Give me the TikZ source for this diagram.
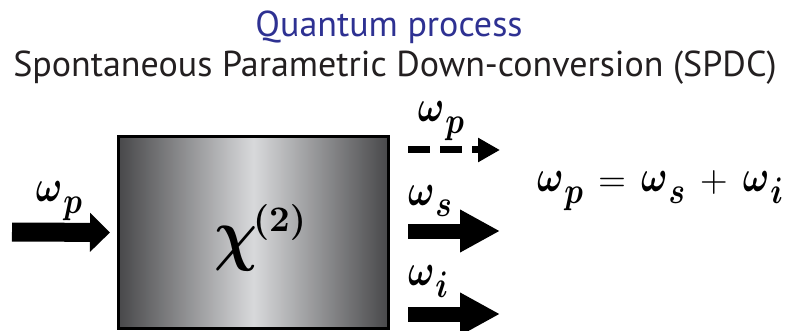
\documentclass[tikz,border=0pt]{standalone}
\usepackage{fontspec}
\usepackage{bm}
\setmainfont{PT Sans}
\usetikzlibrary{arrows.meta,positioning}
\definecolor{titleblue}{RGB}{46,49,146}
\definecolor{textgray}{RGB}{35,31,32}
\definecolor{edgegray}{RGB}{72,72,74}
\definecolor{midgray}{RGB}{216,217,219}
% frequency with its index, set below the line
\newcommand{\freq}[1]{\scalebox{3.5}[4.5]{$\bm{\omega}$}\kern1pt\raisebox{-12pt}{\scalebox{3.1}[3.7]{$\bm{#1}$}}}

\begin{document}
\begin{tikzpicture}[x=1pt,y=-1pt,
	title/.style={ font=\fontsize{36}{36}\selectfont, inner sep=0pt, anchor=base },
	sym/.style={ inner sep=0pt },
	crystal/.style={ draw, line width=3pt, minimum width=270pt, minimum height=192pt,
		left color=edgegray, right color=edgegray, middle color=midgray },
	pump/.style={ line width=19pt, -{Triangle[length=20pt,width=38pt]} },
	beam/.style={ line width=15pt, -{Triangle[length=40pt,width=40pt]} },
	residual/.style={ line width=7pt, dash pattern=on 22pt off 10pt, -{Triangle[length=22pt,width=23pt]} }
]
\useasboundingbox (0,0) rectangle (792,331);

\node[title,text=titleblue] (quantum) at (389,37) {Quantum process};
\node[title,text=textgray] (spdc) at (395,77) {Spontaneous Parametric Down-conversion (SPDC)};

\node[crystal] (crystal) at (253.5,232.5) {};
\node[sym] (chi) at (260,238) {\scalebox{6}[7]{$\bm{\chi}$}\kern-4pt\raisebox{26pt}{\scalebox{3.6}{$\bm{(2)}$}}};

% pump in
\coordinate (pin) at (12,232);
\draw[pump] (pin) -- (crystal.west) [shorten >=7pt];
\node[sym] (wpin) at (59,201) {\freq{p}};

% light out
\coordinate (p0) at (408,150);
\coordinate (p1) at (500,150);
\draw[residual] (p0) -- (p1);
\node[sym] (wpout) at (441,121) {\freq{p}};

\coordinate (s0) at (408,231);
\coordinate (s1) at (500,231);
\draw[beam] (s0) -- (s1);
\node[sym] (ws) at (430,201) {\freq{s}};

\coordinate (i0) at (408,314);
\coordinate (i1) at (500,314);
\draw[beam] (i0) -- (i1);
\node[sym] (wi) at (428,281) {\freq{i}};

\node[sym] (energy) at (660,191) {\freq{p}\hspace{15pt}\scalebox{3.6}{$=$}\hspace{15pt}\freq{s}\hspace{15pt}\scalebox{3.6}{$+$}\hspace{15pt}\freq{i}};

\end{tikzpicture}
\end{document}
